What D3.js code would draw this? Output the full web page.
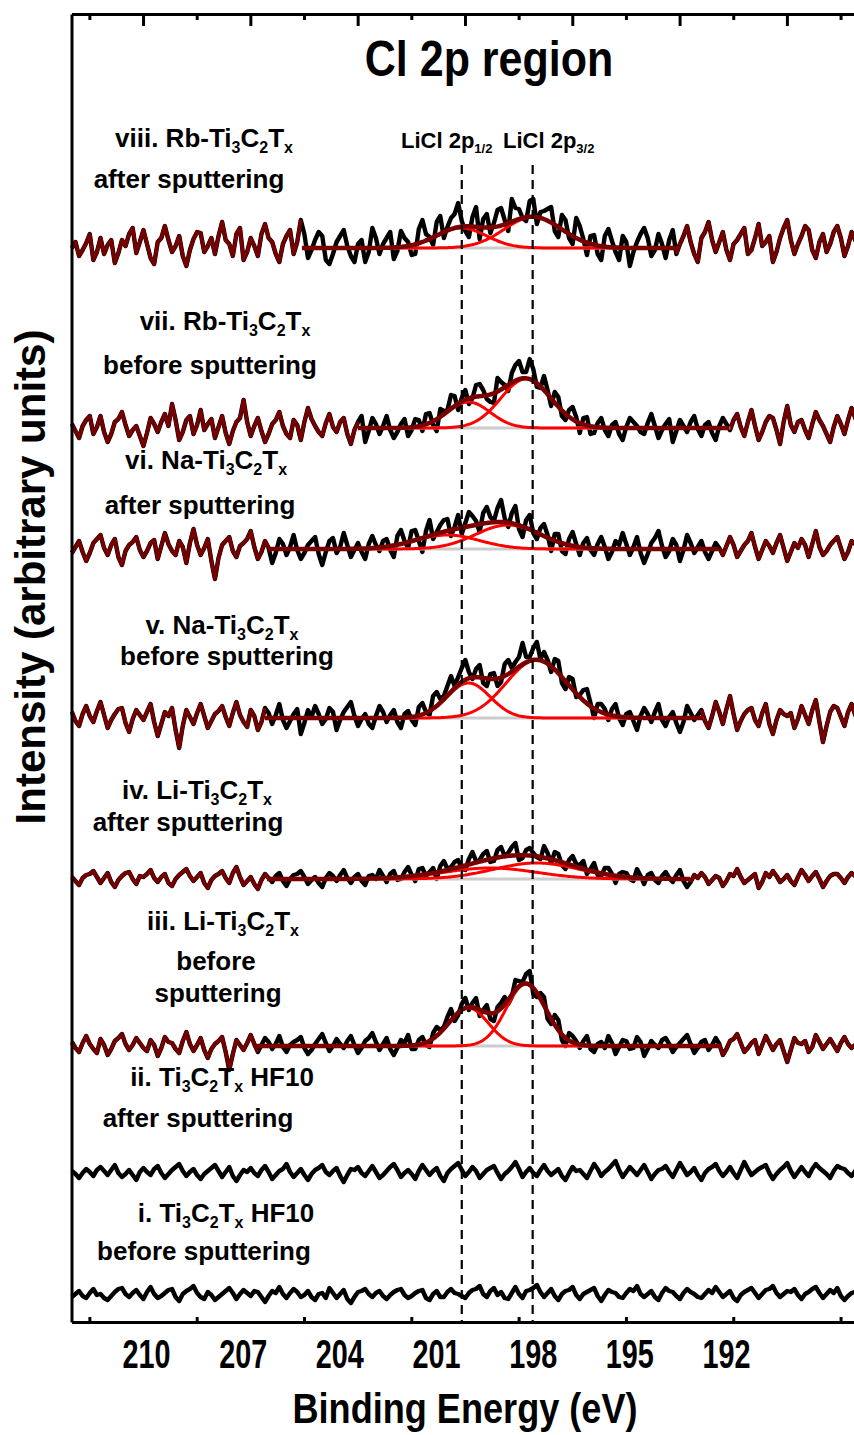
<!DOCTYPE html>
<html>
<head>
<meta charset="utf-8">
<script src="https://cdn.jsdelivr.net/npm/d3@7"></script>
<style>
  body { margin: 0; background: #fff; }
  svg { display: block; }
  text { white-space: pre; }
  .lbl { font-family: "Liberation Sans", Arial, sans-serif; font-weight: bold; }
</style>
</head>
<body>
<div class="chart"></div>
<script>
var svgWidth = 854;
var svgHeight = 1435;

// energy sampling of the raw spectra (eV, high to low)
var eStart = 212.3;
var eStep = 0.111;

// raw Cl 2p counts, relative to each trace's own baseline (arbitrary units)
var spec_i = [
  -2,1, 4,-1, -3,2, 6,0, 1,-3, -5,-1, 3,6, 7,1, -2,2, 5,0,
  -4,3, 8,1, -3,-1, 2,5, 6,-2, -6,1, 4,6, 9,2, -2,-4, 3,0,
  -5,-2, 1,4, 7,2, -4,1, 5,2, -1,4, 3,-2, -7,-1, 4,2, 8,1,
  -3,2, 6,3, -2,0, 4,-2, -5,1, 2,-3, 7,2, -3,1, 5,-4, -8,-2,
  3,4, 6,1, -2,2, 4,-1, -4,0, 3,5, 6,0, -3,-1, 2,4, 5,-3,
  -5,1, 4,-2, -2,3, 6,2, 1,-1, -3,2, 5,6, 9,1, -2,4, 7,0,
  3,-3, -4,2, 8,1, -3,4, 5,7, 10,3, -2,2, 6,-1, -5,1, 4,5,
  8,0, -4,1, 3,5, 7,-1, -6,0, 5,3, 2,-2, -3,2, 6,4, 9,1,
  -2,1, 4,-2, -5,2, 7,4, 3,-1, -4,2, 6,3, 1,-2, -3,1, 5,2,
  8,3, -2,1, 4,-3, -6,0, 3,5, 7,2, -3,1, 5,6, 9,2, -2,1,
  4,3, 6,0, -4,1, 3,6, 8,2, -3,1, 5,2, 7,-1, -5,-1, 2,3,
  4];
var spec_ii = [
  2,-1, -5,0, 4,1, -3,3, 6,2, -2,3, 8,0, -4,-1, 3,-2, -7,1,
  5,1, -2,4, 7,0, -5,-1, 3,6, 9,2, -3,1, 4,-2, -6,-1, 2,5,
  8,2, -4,1, 6,-3, -8,-2, 3,1, 5,0, -3,3, 7,1, -6,-2, 2,4,
  9,1, -4,0, 4,-2, -7,-1, 3,5, 8,1, -2,2, 5,-3, -9,-2, 4,3,
  6,0, -3,2, 7,1, -5,-2, 2,6, 9,3, -4,0, 3,-1, -6,2, 8,3,
  -2,2, 5,-3, -8,0, 4,7, 10,3, -3,1, 6,2, -5,-1, 3,5, 7,0,
  -6,-1, 2,6, 11,4, -4,1, 5,0, -3,3, 8,2, -2,1, 4,-3, -7,0,
  6,2, 3,-1, -5,2, 9,4, -3,1, 4,8, 12,3, -4,1, 6,2, -2,3,
  8,1, -6,-1, 3,4, 7,1, -4,3, 10,4, -2,1, 5,-2, -7,0, 4,6,
  9,2, -3,1, 6,0, -5,3, 11,4, -2,1, 4,6, 8,0, -6,-1, 3,6,
  10,2, -4,1, 6,1, -3,4, 9,5, 2,-1, -5,2, 7,5, 4,0, -3,2,
  6];
var spec_iii = [
  4,-2, -6,3, 10,2, -3,-7, 7,1, -9,-3, 5,8, 12,2, -4,1, 8,3,
  -2,-5, 6,1, -10,-2, 9,4, 3,-3, -7,5, 14,2, -5,1, 8,-4, -12,-3,
  2,5, 9,-6, -24,-8, 6,1, -4,3, 11,2, -6,1, 8,4, -3,2, 10,-1,
  -6,1, 4,6, 9,-2, -8,-4, 2,7, 12,3, -5,0, 7,2, -2,5, 10,1,
  -7,-2, 5,8, 13,4, -4,2, 8,-3, -9,-2, 6,3, 11,-3, -3,6, 9,1,
  -1,13, 19,16, 19,29, 37,25, 31,42, 48,36, 43,48, 30,36, 41,27, 25,39,
  43,49, 42,49, 66,65, 64,72, 75,52, 49,53, 49,27, 22,31, 26,6, 0,13,
  10,5, -2,5, 10,-3, -6,2, 4,-2, 10,3, -8,-1, 6,5, -3,-2, 9,4,
  -10,-3, 5,1, -2,6, 8,2, -6,-1, 3,7, 11,2, -7,-2, 4,6, -4,1,
  8,2, -9,-3, 5,7, 12,3, -6,-2, 3,6, -8,1, 10,3, -4,2, 6,-5,
  -16,-4, 8,3, 2,5, -6,-1, 11,4, -3,2, 7,1, -5,3, 9,2, -2,1,
  4];
var spec_iv = [
  2,-2, -6,1, 4,5, 8,2, -4,1, 6,-3, -8,-1, 3,6, 7,0, -5,3,
  2,5, 9,1, -3,2, 5,-4, -7,0, 4,7, 10,3, -2,2, 6,-4, -9,-1,
  3,5, 8,1, -4,6, 12,2, -6,-2, 2,-5, -10,-1, 5,1, -3,3, 6,-2,
  -7,0, 4,5, 8,2, -5,-1, 2,-4, -8,1, 6,3, -2,4, 9,1, -4,2,
  5,-2, -6,3, 4,0, 9,3, -3,5, 8,-1, 0,7, 12,4, -2,10, 11,3,
  7,11, 0,13, 18,10, 12,17, 19,10, 9,20, 27,18, 19,25, 28,17, 18,29,
  32,23, 26,32, 36,19, 21,29, 31,26, 22,20, 33,26, 16,27, 25,14, 10,19,
  23,15, 14,18, 5,10, 16,4, 3,11, 11,5, -4,5, 7,6, 0,-2, 10,3,
  -5,4, 6,-1, -4,3, 7,1, -3,4, 9,-2, -8,-3, 4,1, 6,2, -5,-1,
  3,1, -7,-2, 5,3, 10,2, -4,-1, 2,5, -9,-3, 6,2, 8,3, -3,0,
  4,-2, -6,2, 9,4, -2,3, 7,0, -8,-2, 3,5, 5,1, -4,2, 6,3,
  1];
var spec_v = [
  6,-3, -8,4, 12,2, -4,7, 16,3, -10,-2, 4,9, 10,-5, -14,-1, 8,3,
  -2,6, 14,-4, -18,-6, 6,2, 10,-12, -30,-8, 8,1, -6,5, 14,2, -10,-3,
  4,7, 12,1, -8,5, 16,3, -4,-9, 8,2, -12,-4, 10,5, -6,3, 14,-2,
  -10,-3, 4,9, -16,-5, 8,1, 12,4, -6,-1, 10,6, -12,-2, 6,11, 16,2,
  -8,-1, 4,-6, -10,2, 12,6, -4,3, 8,-4, -10,4, 7,-2, -7,11, 15,6,
  3,22, 26,19, 22,32, 42,32, 41,50, 58,46, 39,49, 53,35, 32,44, 45,32,
  36,54, 58,50, 56,61, 75,61, 61,70, 76,59, 66,58, 46,59, 57,35, 29,41,
  39,21, 23,28, 29,15, 0,14, 14,9, -2,9, 14,0, -7,4, 6,-3, -12,2,
  10,4, -4,6, 14,-2, -8,1, 6,-5, -14,-4, 12,5, -2,3, 8,-3, -10,2,
  16,6, -6,9, 22,4, -12,-3, 4,8, 10,-2, -8,5, 14,-6, -16,-2, 8,4,
  2,5, -10,-1, 12,3, -6,8, 18,-4, -24,-8, 6,12, 10,1, -8,6, 14,3,
  -4];
var spec_vi = [
  -4,2, 8,-3, -12,-4, 6,10, 14,1, -6,4, 10,-8, -16,-2, 4,7, 12,-1,
  -8,-2, 6,9, -10,3, 16,5, -2,-6, 8,2, -14,6, 20,4, -6,1, 10,-12,
  -30,-9, 4,8, 12,-2, -8,3, 6,10, 18,2, -10,-3, 8,1, -14,-4, 10,5,
  -6,2, 14,-1, -10,-4, 4,8, 12,-5, -16,-3, 8,11, -4,2, 16,4, -8,-1,
  6,-3, -10,5, 13,4, -2,8, 10,-1, -8,13, 19,8, 1,18, 19,8, -3,18,
  29,10, 17,24, 29,30, 13,22, 34,15, 26,37, 33,28, 17,36, 42,32, 28,41,
  49,31, 22,36, 43,20, 12,29, 34,16, 10,21, 25,14, -2,15, 15,-2, -5,10,
  17,5, -6,6, 11,-1, -6,5, 12,2, -10,-3, 8,4, 16,5, -6,2, 12,-4,
  -14,-5, 6,11, 18,3, -8,-2, 10,4, -12,-1, 14,6, -4,2, 8,-3, -10,-2,
  6,1, -6,3, 12,4, -8,-2, 4,8, 16,2, -10,-1, 8,3, -4,6, 14,1,
  -12,-3, 6,1, 10,4, -8,5, 18,2, -6,-2, 4,8, 12,1, -10,-3, 8,5,
  2];
var spec_vii = [
  4,-3, -10,2, 8,12, -6,1, 12,-4, -14,-6, 6,9, 16,3, -8,-2, 2,-8,
  -18,-5, 10,4, -4,6, 14,2, 24,8, -12,-4, 8,12, -6,3, 18,-2, 4,9,
  -10,1, 12,-5, -16,-3, 6,10, 28,6, -8,2, 10,-3, -14,-6, 4,8, 16,2,
  -6,-10, 8,3, -12,6, 20,9, 2,-4, -8,5, 14,1, -4,6, 10,-6, -16,-2,
  6,12, -14,-3, 10,4, -6,2, 12,-2, -10,-4, 4,9, -8,-2, 9,8, -3,14,
  15,3, -3,19, 17,18, 33,32, 18,30, 38,24, 30,43, 44,38, 29,26, 25,50,
  46,43, 37,55, 63,67, 56,56, 69,59, 41,40, 52,38, 22,36, 31,12, 8,18,
  21,11, -5,10, 11,-6, -5,5, 10,-2, -8,3, 6,-6, -12,1, 10,6, 2,-4,
  -6,5, 14,2, -10,-2, 4,9, -14,-3, 8,2, -4,6, 12,-1, -8,3, 6,-5,
  -12,2, 10,4, -2,8, 14,1, -8,6, 18,2, -12,-4, 6,12, 10,-2, -16,6,
  22,3, -4,6, 8,-2, -10,4, 16,8, 2,-6, -14,1, 12,4, -6,8, 20,10,
  4];
var spec_viii = [
  0,6, -8,-2, 5,14, -12,-4, 10,-6, 3,8, -15,-5, 8,2, 14,20, -5,6,
  18,4, -10,-16, 6,10, 22,8, -4,2, 12,-8, -18,-2, 9,16, 15,-4, 2,10,
  -6,12, 26,8, 4,-8, 14,20, -12,-4, 10,2, -8,14, 24,10, 6,-6, -14,4,
  12,18, -6,6, 28,14, -10,-2, 8,16, 12,-12, -16,-6, 6,12, 18,2, -8,-14,
  4,8, -14,-4, 20,10, -6,4, 10,16, -11,-3, 17,10, 6,-7, -6,19, 28,14,
  11,3, 26,32, 10,21, 30,34, 45,27, 17,11, 31,41, 9,29, 34,15, 25,38,
  40,28, 17,49, 40,39, 30,27, 47,49, 24,36, 37,39, 41,17, 11,33, 28,10,
  4,30, 22,9, -7,12, 13,-6, -12,12, 19,7, -4,-12, 12,6, -18,-4, 6,14,
  20,10, -8,-2, 14,4, -10,8, 18,-6, 4,12, 22,6, -6,-14, 10,16, 26,8,
  -4,6, 16,-2, -12,4, 8,14, 20,-6, -2,10, 24,2, 6,12, -14,-4, 10,20,
  28,8, -6,4, 12,22, 18,-2, -10,6, 14,-4, 4,16, 22,10, -8,2, 16,8,
  2];

var spectra = [spec_i, spec_ii, spec_iii, spec_iv, spec_v, spec_vi, spec_vii, spec_viii];

// vertical stacking offset of each trace (same arbitrary units)
var offsets = [27, 149, 276, 443, 604, 773, 894, 1074];

var sampleNames = ["i. Ti_3C_2T_x HF10", "ii. Ti_3C_2T_x HF10", "iii. Li-Ti_3C_2T_x", "iv. Li-Ti_3C_2T_x",
  "v. Na-Ti_3C_2T_x", "vi. Na-Ti_3C_2T_x", "vii. Rb-Ti_3C_2T_x", "viii. Rb-Ti_3C_2T_x"];
var conditions = ["before sputtering", "after sputtering", "before|sputtering", "after sputtering",
  "before sputtering", "after sputtering", "before sputtering", "after sputtering"];

// peak fits (null = not fitted): fit window and two Gaussian components
var fitFrom = [null, null, 206.55, 206.24, 206.31, 206.21, 203.42, 205.16];
var fitTo = [null, null, 192.19, 193.12, 192.71, 192.25, 191.87, 193.52];
var p12Center = [null, null, 199.99, 199.32, 199.99, 200.65, 199.99, 200.21];
var p12Height = [null, null, 38, 11, 35, 14, 26, 20];
var p12Sigma = [null, null, 0.61, 1.44, 0.67, 1.0, 0.67, 0.78];
var p32Center = [null, null, 198.21, 197.88, 197.88, 198.77, 198.21, 197.99];
var p32Height = [null, null, 62, 16, 58, 24, 49, 31];
var p32Sigma = [null, null, 0.61, 1.33, 0.94, 1.0, 0.78, 0.89];

var refLines = [200.2, 198.0];
var refNames = ["LiCl 2p_{1/2}", "LiCl 2p_{3/2}"];

// tick labels, and the frame's own tick marks
var tickLabels = [210, 207, 204, 201, 198, 195, 192];
var frameMajor = [210, 207, 204, 201, 198, 195, 192];
var frameMinor = [211.5, 208.5, 205.5, 202.5, 199.5, 196.5, 193.5, 190.5];

// ---- layout ----
var plotLeft = 71.5, plotTop = 14, plotBottom = 1322;
var labelPos = [
  [[226, 1222], [204, 1260]],
  [[222, 1086], [198, 1127]],
  [[223, 930], [216, 970], [218, 1002]],
  [[197, 799], [188, 831]],
  [[222, 634], [227, 665]],
  [[206, 469], [200, 514]],
  [[225, 330], [210, 374]],
  [[204, 147], [189, 188]]
];

var svg = d3.select(".chart")
  .append("svg")
  .attr("width", svgWidth)
  .attr("height", svgHeight);

// data / label scale
var x = d3.scaleLinear()
  .domain([210, 192])
  .range([146, 726]);

// scale of the frame tick marks
var xFrame = d3.scaleLinear()
  .domain([212, 190])
  .range([plotLeft, plotLeft + 22 * 35.77]);

var y = d3.scaleLinear()
  .domain([0, plotBottom - plotTop])
  .range([plotBottom, plotTop]);

function energy(i) { return eStart - eStep * i; }

function gauss(e, c, h, s) { return h * Math.exp(-(e - c) * (e - c) / (2 * s * s)); }

// text with "_x" / "_{..}" subscripts
function richText(parent, str, px, py, size, subSize, shift, anchor) {
  var t = parent.append("text")
    .attr("class", "lbl")
    .attr("x", px).attr("y", py)
    .attr("font-size", size)
    .attr("text-anchor", anchor || "middle");
  var down = false;
  str.split(/(_\{[^}]*\}|_.)/).forEach(function (p) {
    if (!p) return;
    var ts = t.append("tspan");
    if (p[0] === "_") {
      ts.text(p.replace(/^_\{?|\}$/g, "")).attr("font-size", subSize).attr("dy", down ? 0 : shift);
      down = true;
    } else {
      ts.text(p).attr("dy", down ? -shift : 0);
      down = false;
    }
  });
  return t;
}

// condensed bold text (the figure's Arial Narrow look)
function narrowText(str, px, py, size, squeeze) {
  return svg.append("text")
    .attr("class", "lbl")
    .attr("transform", `translate(${px}, ${py}) scale(${squeeze}, 1)`)
    .attr("text-anchor", "middle")
    .attr("font-size", size)
    .text(str);
}

var dataLine = d3.line()
  .x(d => x(d[0]))
  .y(d => y(d[1]));

var traces = svg.append("g");

spectra.forEach(function (vals, k) {
  var base = offsets[k];
  var pts = vals.map((v, i) => [energy(i), base + v]);

  traces.append("path")
    .attr("d", dataLine(pts))
    .attr("fill", "none")
    .attr("stroke", "#000")
    .attr("stroke-width", 4.4)
    .attr("stroke-linejoin", "round");

  if (fitFrom[k] === null) return;

  var iFrom = Math.round((eStart - fitFrom[k]) / eStep);
  var iTo = Math.round((eStart - fitTo[k]) / eStep);
  [pts.slice(0, iFrom + 1), pts.slice(iTo)].forEach(function (seg) {
    traces.append("path")
      .attr("d", dataLine(seg))
      .attr("fill", "none")
      .attr("stroke", "#760000")
      .attr("stroke-width", 3.6)
      .attr("stroke-linejoin", "round");
  });

  var fine = d3.range(fitFrom[k], fitTo[k] - 0.001, -0.04);
  var c1 = fine.map(e => [e, base + gauss(e, p12Center[k], p12Height[k], p12Sigma[k])]);
  var c2 = fine.map(e => [e, base + gauss(e, p32Center[k], p32Height[k], p32Sigma[k])]);
  var env = fine.map((e, j) => [e, c1[j][1] + c2[j][1] - base]);

  traces.append("path")
    .attr("d", dataLine([[fitFrom[k], base], [fitTo[k], base]]))
    .attr("stroke", "#cccccc")
    .attr("stroke-width", 3);

  [c1, c2].forEach(function (c) {
    traces.append("path")
      .attr("d", dataLine(c))
      .attr("fill", "none")
      .attr("stroke", "#ff0000")
      .attr("stroke-width", 3);
  });

  traces.append("path")
    .attr("d", dataLine(env))
    .attr("fill", "none")
    .attr("stroke", "#7a0000")
    .attr("stroke-width", 4.5);
});

// reference positions of LiCl
refLines.forEach(function (e) {
  svg.append("line")
    .attr("x1", x(e)).attr("x2", x(e))
    .attr("y1", 165).attr("y2", plotBottom)
    .attr("stroke", "#000")
    .attr("stroke-width", 2.2)
    .attr("stroke-dasharray", "9,6");
});
richText(svg, refNames[0], 401, 148, 22, 13, 5, "start");
richText(svg, refNames[1], 503, 148, 22, 13, 5, "start");

// sample labels
sampleNames.forEach(function (name, k) {
  var lines = [name].concat(conditions[k].split("|"));
  lines.forEach(function (txt, j) {
    var p = labelPos[k][j];
    richText(svg, txt, p[0], p[1], 26, 16, 6);
  });
});

// frame and tick marks
var bottomAxis = d3.axisBottom(xFrame).tickValues(frameMinor).tickSize(-5).tickSizeOuter(0).tickFormat("");
var topMinor = d3.axisTop(xFrame).tickValues(frameMinor).tickSize(-6).tickSizeOuter(0).tickFormat("");
var topMajor = d3.axisTop(xFrame).tickValues(frameMajor).tickSize(-12).tickSizeOuter(0).tickFormat("");
var leftAxis = d3.axisLeft(y).tickValues([]).tickSizeOuter(0);

[[bottomAxis, plotBottom], [topMinor, plotTop], [topMajor, plotTop]].forEach(function (a) {
  var g = svg.append("g")
    .attr("transform", `translate(0, ${a[1]})`)
    .call(a[0]);
  g.select(".domain").attr("stroke-width", 3);
  g.selectAll(".tick line").attr("stroke-width", 3);
});

svg.append("g")
  .attr("transform", `translate(${plotLeft}, 0)`)
  .call(leftAxis)
  .select(".domain").attr("stroke-width", 3);

// tick labels
var labelAxis = svg.append("g")
  .attr("transform", `translate(0, ${plotBottom})`)
  .call(d3.axisBottom(x).tickValues(tickLabels).tickSize(0).tickPadding(0).tickFormat(d3.format("d")));
labelAxis.select(".domain").remove();
labelAxis.selectAll("text")
  .attr("class", "lbl")
  .attr("font-size", 40)
  .attr("y", 0)
  .attr("dy", 0)
  .attr("transform", "translate(0, 46) scale(0.72, 1)")
  .attr("fill", "#000");

narrowText("Binding Energy (eV)", 465, 1423, 42, 0.86);
narrowText("Cl 2p region", 489, 76, 50, 0.86);

svg.append("text")
  .attr("class", "lbl")
  .attr("transform", "translate(45, 577) rotate(-90)")
  .attr("text-anchor", "middle")
  .attr("font-size", 42)
  .text("Intensity (arbitrary units)");
</script>
</body>
</html>
